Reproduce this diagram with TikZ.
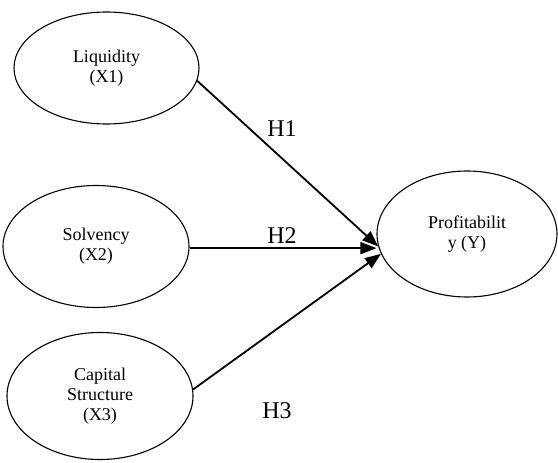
\documentclass[tikz,border=0pt]{standalone}
\usepackage{fontspec}
\setmainfont{Liberation Serif}
\usetikzlibrary{shapes.geometric,arrows.meta}

\tikzset{
  var/.style={draw,ellipse,line width=1.1pt,inner sep=0pt,align=center,
    font=\fontsize{18}{20}\selectfont},
  hyp/.style={font=\fontsize{24}{26}\selectfont,inner sep=0pt},
  path/.style={line width=1.8pt,-{Triangle[length=16pt,width=12pt]}}
}

\begin{document}
\begin{tikzpicture}[x=1pt,y=-1pt]
  \useasboundingbox (0,0) rectangle (558,463);
  % variabele
  \node[var,minimum width=185pt,minimum height=112pt] (liq) at (106.5,68) {Liquidity\\(X1)};
  \node[var,minimum width=186pt,minimum height=122pt] (solv) at (96,246.5) {Solvency\\(X2)};
  \node[var,minimum width=186pt,minimum height=127pt] (cap) at (100,396) {Capital\\Structure\\(X3)};
  \node[var,minimum width=180pt,minimum height=126pt] (prof) at (467,234) {Profitabilit\\y (Y)};

  % hipotesis
  \draw[path] (liq.-8) -- (prof.188);
  \draw[path] (solv.-1) -- (solv.-1 -| prof.west);
  \draw[path] (cap.4) -- (prof.193);

  % label
  \node[hyp] (h1) at (282,129) {H1};
  \node[hyp] (h2) at (282,236) {H2};
  \node[hyp] (h3) at (277,411) {H3};
\end{tikzpicture}
\end{document}
